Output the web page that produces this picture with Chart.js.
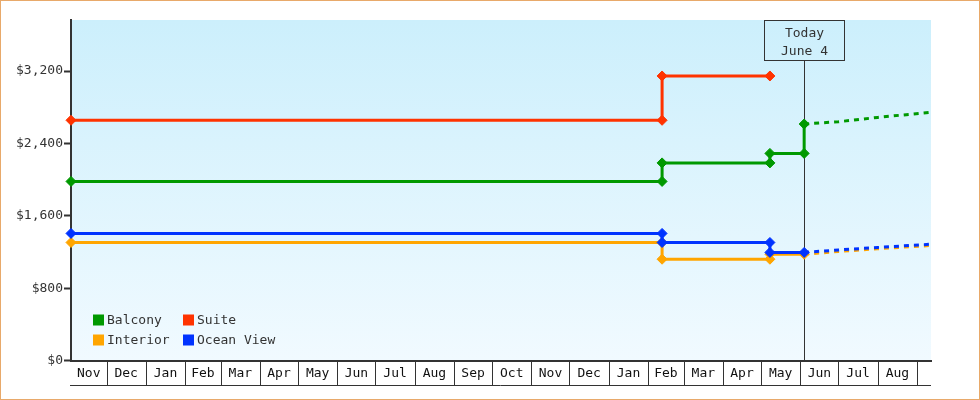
<!DOCTYPE html>
<html>
<head>
<meta charset="utf-8">
<title>Cabin price history</title>
<script src="https://cdn.jsdelivr.net/npm/chart.js@4.4.1/dist/chart.umd.min.js"></script>
<style>
    html, body { margin: 0; padding: 0; background: #fff; }
</style>
</head>
<body>
<canvas id="priceChart" width="980" height="400"></canvas>
<script>
// axis range and marker
const axisStart = '2009-11-03';
const axisEnd = '2011-09-12';
const today = '2011-06-04';
const todayLabel = ['Today', 'June 4'];

// month cells under the axis
const monthStarts = ['2009-11-01', '2009-12-01', '2010-01-01', '2010-02-01', '2010-03-01', '2010-04-01',
    '2010-05-01', '2010-06-01', '2010-07-01', '2010-08-01', '2010-09-01', '2010-10-01', '2010-11-01',
    '2010-12-01', '2011-01-01', '2011-02-01', '2011-03-01', '2011-04-01', '2011-05-01', '2011-06-01',
    '2011-07-01', '2011-08-01', '2011-09-01'];
const monthLabels = ['Nov', 'Dec', 'Jan', 'Feb', 'Mar', 'Apr', 'May', 'Jun', 'Jul', 'Aug', 'Sep', 'Oct',
    'Nov', 'Dec', 'Jan', 'Feb', 'Mar', 'Apr', 'May', 'Jun', 'Jul', 'Aug'];

const yTicks = [0, 800, 1600, 2400, 3200];
const yMax = 3765;

// price history
const balconyDates = ['2009-11-03', '2011-02-12', '2011-02-12', '2011-05-08', '2011-05-08', '2011-06-04', '2011-06-04'];
const balconyPrices = [1980, 1980, 2185, 2185, 2290, 2290, 2615];
const balconyForecastDates = ['2011-07-01', '2011-08-01', '2011-09-12'];
const balconyForecast = [2640, 2688, 2745];

const suiteDates = ['2009-11-03', '2011-02-12', '2011-02-12', '2011-05-08'];
const suitePrices = [2656, 2656, 3146, 3146];

const interiorDates = ['2009-11-03', '2011-02-12', '2011-02-12', '2011-05-08', '2011-05-08', '2011-06-04'];
const interiorPrices = [1305, 1305, 1120, 1120, 1175, 1175];
const interiorForecastDates = ['2011-07-01', '2011-08-01', '2011-09-12'];
const interiorForecast = [1205, 1236, 1272];

const oceanDates = ['2009-11-03', '2011-02-12', '2011-02-12', '2011-05-08', '2011-05-08', '2011-06-04'];
const oceanPrices = [1405, 1405, 1305, 1305, 1195, 1195];
const oceanForecastDates = ['2011-07-01', '2011-08-01', '2011-09-12'];
const oceanForecast = [1222, 1250, 1286];

const FONT = "'DejaVu Sans Mono', 'Liberation Mono', monospace";

function day(s) {
    return Date.parse(s + 'T00:00:00Z') / 864e5;
}

function series(label, color, dates, prices, fDates, fPrices, order) {
    let pts = dates.map((d, i) => ({ x: day(d), y: prices[i] }));
    let n = pts.length;
    let fc = fDates.map((d, i) => ({ x: day(d), y: fPrices[i] }));
    return {
        label: label,
        data: pts.concat(fc),
        borderColor: color,
        backgroundColor: color,
        borderWidth: 3,
        tension: 0,
        pointStyle: 'rectRot',
        pointRadius: ctx => ctx.dataIndex < n ? 5 : 0,
        pointHoverRadius: ctx => ctx.dataIndex < n ? 5 : 0,
        pointBorderWidth: 1,
        segment: {
            borderDash: ctx => ctx.p1DataIndex >= n ? [5, 5] : undefined
        },
        clip: false,
        order: order
    };
}

// month cells clipped to the visible range
let xMin = day(axisStart), xMax = day(axisEnd);
let cells = monthLabels.map((m, i) => ({
    label: m,
    from: Math.max(day(monthStarts[i]), xMin),
    to: Math.min(day(monthStarts[i + 1]), xMax)
}));

const backdrop = {
    id: 'backdrop',
    beforeDraw(chart) {
        let { ctx, chartArea: a } = chart;
        ctx.save();
        ctx.fillStyle = '#fff';
        ctx.fillRect(0, 0, chart.width, chart.height);
        let g = ctx.createLinearGradient(0, a.top, 0, a.bottom);
        g.addColorStop(0, '#cceffc');
        g.addColorStop(1, '#f1faff');
        ctx.fillStyle = g;
        ctx.fillRect(a.left, a.top, a.right - a.left, a.bottom - a.top);
        ctx.restore();
    },
    afterDraw(chart) {
        let ctx = chart.ctx;
        ctx.save();
        ctx.strokeStyle = '#e8a96a';
        ctx.lineWidth = 1;
        ctx.strokeRect(0.5, 0.5, chart.width - 1, chart.height - 1);
        ctx.restore();
    }
};

const monthCells = {
    id: 'monthCells',
    afterDraw(chart) {
        let { ctx, chartArea: a } = chart;
        let xs = chart.scales.x;
        let bottom = Math.round(a.bottom) + 24;
        ctx.save();
        ctx.strokeStyle = '#333';
        ctx.lineWidth = 1;
        ctx.beginPath();
        cells.forEach((c, i) => {
            if (i === 0) return;
            let px = Math.round(xs.getPixelForValue(c.from)) + 0.5;
            ctx.moveTo(px, a.bottom);
            ctx.lineTo(px, bottom);
        });
        let last = Math.round(xs.getPixelForValue(day(monthStarts[monthStarts.length - 1]))) + 0.5;
        ctx.moveTo(last, a.bottom);
        ctx.lineTo(last, bottom);
        ctx.moveTo(a.left - 1, bottom + 0.5);
        ctx.lineTo(a.right, bottom + 0.5);
        ctx.stroke();
        ctx.restore();
    }
};

const todayMarker = {
    id: 'todayMarker',
    beforeDatasetsDraw(chart) {
        let { ctx, chartArea: a } = chart;
        let x = Math.round(chart.scales.x.getPixelForValue(day(today))) + 0.5;
        let top = a.top + 0.5, h = 40;
        ctx.save();
        ctx.strokeStyle = '#333';
        ctx.lineWidth = 1;
        ctx.strokeRect(x - 40, top, 80, h);
        ctx.beginPath();
        ctx.moveTo(x, top + h);
        ctx.lineTo(x, a.bottom);
        ctx.stroke();
        ctx.fillStyle = '#333';
        ctx.font = '13px ' + FONT;
        ctx.textAlign = 'center';
        ctx.textBaseline = 'middle';
        ctx.fillText(todayLabel[0], x, top + 13);
        ctx.fillText(todayLabel[1], x, top + 31);
        ctx.restore();
    }
};

const boxLegend = {
    id: 'boxLegend',
    afterDatasetsDraw(chart) {
        let { ctx, chartArea: a } = chart;
        let sets = chart.data.datasets;
        ctx.save();
        ctx.font = '13px ' + FONT;
        ctx.textBaseline = 'middle';
        ctx.textAlign = 'left';
        sets.forEach((ds, i) => {
            let col = i % 2, row = Math.floor(i / 2);
            let x = a.left + 22 + col * 90;
            let y = a.bottom - 46 + row * 20;
            ctx.fillStyle = ds.borderColor;
            ctx.fillRect(x, y, 11, 11);
            ctx.fillStyle = '#333';
            ctx.fillText(ds.label, x + 14, y + 6);
        });
        ctx.restore();
    }
};

new Chart(document.getElementById('priceChart').getContext('2d'), {
    type: 'line',
    data: {
        datasets: [
            series('Balcony', '#009900', balconyDates, balconyPrices, balconyForecastDates, balconyForecast, 1),
            series('Suite', '#ff3300', suiteDates, suitePrices, [], [], 1),
            series('Interior', '#ffa500', interiorDates, interiorPrices, interiorForecastDates, interiorForecast, 2),
            series('Ocean View', '#0033ff', oceanDates, oceanPrices, oceanForecastDates, oceanForecast, 0)
        ]
    },
    options: {
        responsive: false,
        animation: false,
        events: [],
        layout: {
            padding: { top: 20, right: 49, left: 0, bottom: 0 }
        },
        plugins: {
            legend: { display: false },
            tooltip: { enabled: false }
        },
        scales: {
            x: {
                type: 'linear',
                min: xMin,
                max: xMax,
                afterBuildTicks: axis => {
                    axis.ticks = cells.map(c => ({ value: (c.from + c.to) / 2 }));
                },
                afterFit: axis => { axis.height = 39.5; },
                ticks: {
                    autoSkip: false,
                    maxRotation: 0,
                    padding: 5,
                    color: '#111',
                    font: { family: FONT, size: 13 },
                    callback: (v, i) => cells[i] ? cells[i].label : ''
                },
                grid: { display: false, drawTicks: false },
                border: { display: true, color: '#333', width: 2 }
            },
            y: {
                min: 0,
                max: yMax,
                afterBuildTicks: axis => {
                    axis.ticks = yTicks.map(v => ({ value: v }));
                },
                afterFit: axis => { axis.width = 71; },
                ticks: {
                    padding: 1,
                    color: '#333',
                    font: { family: FONT, size: 13 },
                    callback: v => '$' + v.toLocaleString('en-US')
                },
                grid: {
                    drawOnChartArea: false,
                    tickLength: 7,
                    tickWidth: 2,
                    tickColor: '#333'
                },
                border: { color: '#333', width: 2 }
            }
        }
    },
    plugins: [backdrop, monthCells, todayMarker, boxLegend]
});
</script>
</body>
</html>
